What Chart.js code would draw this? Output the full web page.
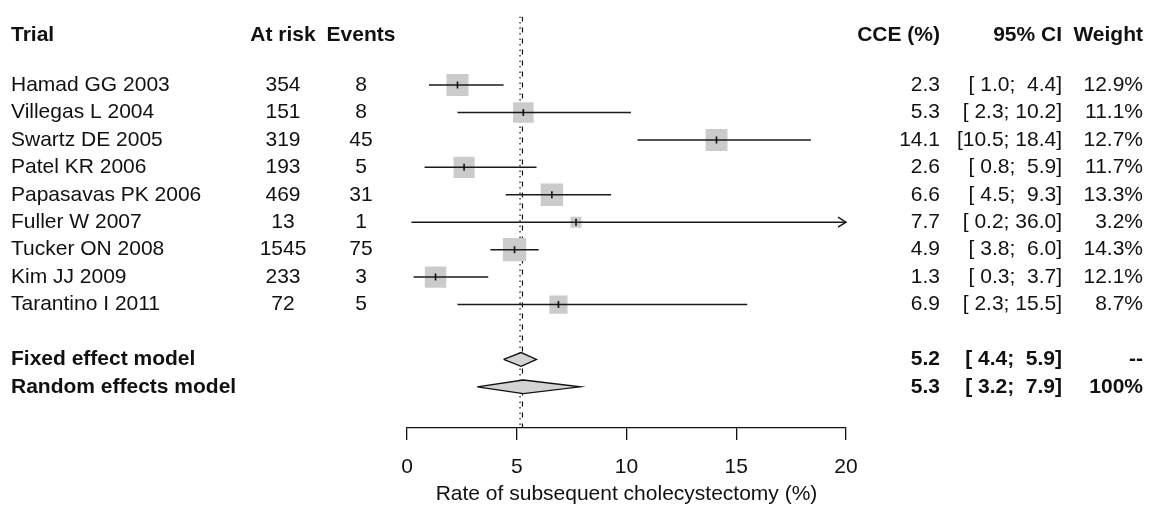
<!DOCTYPE html>
<html>
<head>
<meta charset="utf-8">
<title>Forest plot - subsequent cholecystectomy</title>
<script src="https://cdn.jsdelivr.net/npm/chart.js@4/dist/chart.umd.min.js"></script>
<style>
  html, body { margin: 0; padding: 0; background: #fff; }
  canvas { display: block; }
</style>
</head>
<body>
<canvas id="forest" width="1151" height="511"></canvas>
<script>
// study data
const studies = ['Hamad GG 2003', 'Villegas L 2004', 'Swartz DE 2005', 'Patel KR 2006', 'Papasavas PK 2006',
                 'Fuller W 2007', 'Tucker ON 2008', 'Kim JJ 2009', 'Tarantino I 2011'];
const atRisk = [354, 151, 319, 193, 469, 13, 1545, 233, 72];
const events = [8, 8, 45, 5, 31, 1, 75, 3, 5];
const cce = [2.3, 5.3, 14.1, 2.6, 6.6, 7.7, 4.9, 1.3, 6.9];
const ciLow = [1.0, 2.3, 10.5, 0.8, 4.5, 0.2, 3.8, 0.3, 2.3];
const ciHigh = [4.4, 10.2, 18.4, 5.9, 9.3, 36.0, 6.0, 3.7, 15.5];
const weights = [12.9, 11.1, 12.7, 11.7, 13.3, 3.2, 14.3, 12.1, 8.7];

// pooled estimates
const models = ['Fixed effect model', 'Random effects model'];
const modelEst = [5.2, 5.3];
const modelLow = [4.4, 3.2];
const modelHigh = [5.9, 7.9];
const modelWeight = ['--', '100%'];
const modelLine = [5.15, 5.26]; // where the reference lines sit on the axis

const xTicks = [0, 5, 10, 15, 20];
const xTitle = 'Rate of subsequent cholecystectomy (%)';

const X_MIN = 0, X_MAX = 20;
const FONT = '"Liberation Sans", Arial, Helvetica, sans-serif';
const TEXT = '#111';
const HEADER_ROW = -1.82;
const modelRow = i => studies.length + 1 + i;

Chart.defaults.font.family = FONT;
Chart.defaults.font.size = 21;
Chart.defaults.color = TEXT;

function fmtCI(lo, hi) {
    return '[' + lo.toFixed(1).padStart(4) + '; ' + hi.toFixed(1).padStart(4) + ']';
}

const datasets = [];

// point estimate ticks
datasets.push({
    order: 1,
    data: cce.map((v, i) => ({ x: v, y: i })),
    pointStyle: 'line',
    rotation: 90,
    pointRadius: 3.5,
    pointBorderWidth: 1.6,
    pointBorderColor: '#111'
});

// confidence interval lines
studies.forEach((s, i) => {
    datasets.push({
        order: 2,
        showLine: true,
        data: [{ x: ciLow[i], y: i }, { x: Math.min(ciHigh[i], X_MAX), y: i }],
        borderColor: '#1a1a1a',
        borderWidth: 1.5,
        pointRadius: 0
    });
});

// weight squares
datasets.push({
    order: 4,
    data: cce.map((v, i) => ({ x: v, y: i })),
    pointStyle: 'rect',
    pointRadius: ctx => 6.16 * Math.sqrt(weights[ctx.dataIndex]) / Math.SQRT2,
    backgroundColor: '#cbcbcb',
    borderWidth: 0
});

// summary diamonds
models.forEach((m, i) => {
    const r = modelRow(i);
    datasets.push({
        order: 3,
        showLine: true,
        fill: 'shape',
        data: [
            { x: modelLow[i], y: r },
            { x: modelEst[i], y: r - 0.25 },
            { x: modelHigh[i], y: r },
            { x: modelEst[i], y: r + 0.25 },
            { x: modelLow[i], y: r }
        ],
        borderColor: '#111',
        borderWidth: 1.3,
        backgroundColor: '#d3d3d3',
        pointRadius: 0
    });
});

// reference lines (dotted = fixed, dashed = random)
modelLine.forEach((v, i) => {
    datasets.push({
        order: 5,
        showLine: true,
        data: [{ x: v, y: -2.5 }, { x: v, y: 12.5 }],
        borderColor: '#111',
        borderWidth: 1.2,
        borderDash: i === 0 ? [1.5, 4] : [5, 6],
        pointRadius: 0
    });
});

// text columns + clipped arrow
const tablePlugin = {
    id: 'forestTable',
    afterDatasetsDraw(chart) {
        const { ctx, scales: { x, y } } = chart;
        ctx.save();
        ctx.strokeStyle = '#1a1a1a';
        ctx.lineWidth = 1.5;
        ciHigh.forEach((hi, i) => {
            if (hi <= X_MAX) return;
            const px = x.getPixelForValue(X_MAX);
            const py = y.getPixelForValue(i);
            ctx.beginPath();
            ctx.moveTo(px - 8, py - 5);
            ctx.lineTo(px, py);
            ctx.lineTo(px - 8, py + 5);
            ctx.stroke();
        });
        ctx.restore();
    },
    afterDraw(chart) {
        const { ctx, scales: { y } } = chart;
        const cols = { trial: 11, risk: 283, events: 361, cce: 940, ci: 1062, weight: 1143 };
        const put = (txt, px, py, align, bold) => {
            ctx.font = (bold ? 'bold ' : '') + '21px ' + FONT;
            ctx.textAlign = align;
            ctx.fillText(txt, px, py);
        };
        ctx.save();
        ctx.fillStyle = TEXT;
        ctx.textBaseline = 'middle';

        const hy = y.getPixelForValue(HEADER_ROW);
        put('Trial', cols.trial, hy, 'left', true);
        put('At risk', cols.risk, hy, 'center', true);
        put('Events', cols.events, hy, 'center', true);
        put('CCE (%)', cols.cce, hy, 'right', true);
        put('95% CI', cols.ci, hy, 'right', true);
        put('Weight', cols.weight, hy, 'right', true);

        studies.forEach((s, i) => {
            const py = y.getPixelForValue(i);
            put(s, cols.trial, py, 'left', false);
            put(String(atRisk[i]), cols.risk, py, 'center', false);
            put(String(events[i]), cols.events, py, 'center', false);
            put(cce[i].toFixed(1), cols.cce, py, 'right', false);
            put(fmtCI(ciLow[i], ciHigh[i]), cols.ci, py, 'right', false);
            put(weights[i].toFixed(1) + '%', cols.weight, py, 'right', false);
        });

        models.forEach((m, i) => {
            const py = y.getPixelForValue(modelRow(i));
            put(m, cols.trial, py, 'left', true);
            put(modelEst[i].toFixed(1), cols.cce, py, 'right', true);
            put(fmtCI(modelLow[i], modelHigh[i]), cols.ci, py, 'right', true);
            put(modelWeight[i], cols.weight, py, 'right', true);
        });
        ctx.restore();
    }
};

new Chart(document.getElementById('forest'), {
    type: 'scatter',
    data: { datasets },
    options: {
        responsive: false,
        animation: false,
        events: [],
        layout: { padding: { left: 407, right: 305, top: 10, bottom: 0 } },
        plugins: { legend: { display: false }, tooltip: { enabled: false } },
        scales: {
            x: {
                type: 'linear',
                min: X_MIN,
                max: X_MAX,
                afterBuildTicks: scale => { scale.ticks = xTicks.map(v => ({ value: v })); },
                afterFit: scale => { scale.height = 83; },
                grid: { drawOnChartArea: false, drawTicks: true, tickLength: 12, color: '#111', lineWidth: 1.3 },
                border: { display: true, color: '#111', width: 1.3 },
                ticks: { padding: 15, color: TEXT, font: { size: 21 } },
                title: { display: true, text: xTitle, color: TEXT, font: { size: 21 }, padding: { top: 0, bottom: 4 } }
            },
            y: {
                type: 'linear',
                display: false,
                reverse: true,
                min: -2.5,
                max: 12.5
            }
        }
    },
    plugins: [tablePlugin]
});
</script>
</body>
</html>
